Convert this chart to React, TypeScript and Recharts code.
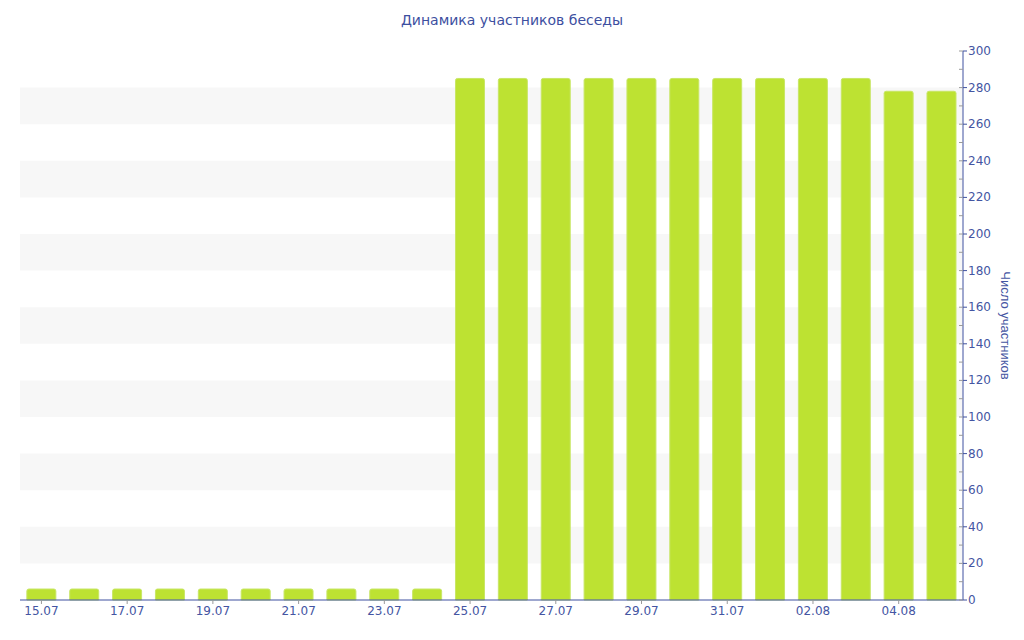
import { BarChart, Bar, XAxis, YAxis, ReferenceArea } from 'recharts'

const days = [
  '15.07', '16.07', '17.07', '18.07', '19.07', '20.07', '21.07', '22.07', '23.07', '24.07', '25.07',
  '26.07', '27.07', '28.07', '29.07', '30.07', '31.07', '01.08', '02.08', '03.08', '04.08', '05.08',
]

const members = [6, 6, 6, 6, 6, 6, 6, 6, 6, 6, 285, 285, 285, 285, 285, 285, 285, 285, 285, 285, 278, 278]

const yTicks = [0, 10, 20, 30, 40, 50, 60, 70, 80, 90, 100, 110, 120, 130, 140, 150, 160, 170, 180, 190, 200, 210, 220, 230, 240, 250, 260, 270, 280, 290, 300]

const stripes = [
  [20, 40], [60, 80], [100, 120], [140, 160], [180, 200], [220, 240], [260, 280],
]

const data = days.map((d, i) => ({ day: d, count: members[i] }))

const axisColor = '#3f51a0'
const textColor = '#4455a2'
const font = '"DejaVu Sans", Verdana, sans-serif'

function YTick(props: any) {
  const { x, y, payload } = props
  const major = payload.value % 20 === 0
  return (
    <g>
      <line x1={x - 4} x2={x} y1={y} y2={y} stroke="#9a9a9a" />
      {major && <line x1={x} x2={x + 4} y1={y} y2={y} stroke={axisColor} />}
      {major && (
        <text x={x + 5} y={y} dy={4} fill={textColor} fontSize={12} fontFamily={font}>
          {payload.value}
        </text>
      )}
    </g>
  )
}

function YLabel(props: any) {
  const { viewBox } = props
  const cx = viewBox.x + 42
  const cy = viewBox.y + viewBox.height / 2
  return (
    <text
      x={cx}
      y={cy}
      transform={`rotate(90 ${cx} ${cy})`}
      textAnchor="middle"
      dominantBaseline="central"
      fill={textColor}
      fontSize={13}
      fontFamily='"Liberation Sans", Arial, sans-serif'
    >
      Число участников
    </text>
  )
}

export default function App() {
  return (
    <div style={{ position: 'absolute', left: 0, top: 0, width: 1024, height: 640, background: '#fff' }}>
      <div
        style={{
          position: 'absolute',
          top: 12,
          left: 0,
          width: 1024,
          textAlign: 'center',
          fontFamily: font,
          fontSize: 14,
          color: '#3d4f9f',
        }}
      >
        Динамика участников беседы
      </div>
      <BarChart
        width={1024}
        height={640}
        data={data}
        margin={{ top: 51, right: 0, bottom: 10, left: 20 }}
        barCategoryGap="16%"
      >
        {stripes.map(([a, b]) => (
          <ReferenceArea key={a} y1={a} y2={b} fill="#f7f7f7" fillOpacity={1} stroke="none" ifOverflow="hidden" />
        ))}
        <XAxis
          dataKey="day"
          interval={1}
          height={30}
          tickSize={4}
          tickMargin={2}
          stroke={axisColor}
          tickLine={{ stroke: '#9a9a9a' }}
          tick={{ fill: textColor, fontSize: 12, fontFamily: font }}
        />
        <YAxis
          orientation="right"
          width={61}
          domain={[0, 300]}
          ticks={yTicks}
          interval={0}
          tickLine={false}
          tickSize={0}
          tickMargin={0}
          stroke={axisColor}
          tick={<YTick />}
          label={<YLabel />}
        />
        <Bar dataKey="count" fill="#bde232" stroke="#c8e666" strokeWidth={1} radius={[2, 2, 0, 0]} isAnimationActive={false} />
      </BarChart>
    </div>
  )
}
